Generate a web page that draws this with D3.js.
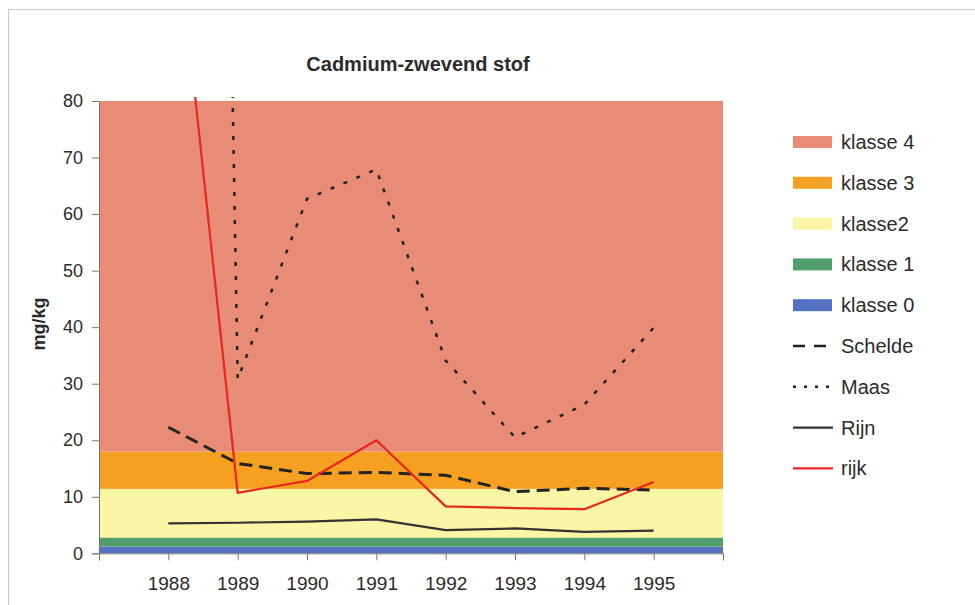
<!DOCTYPE html>
<html>
<head>
<meta charset="utf-8">
<script src="https://cdn.jsdelivr.net/npm/d3@7"></script>
<style>
  body { margin: 0; background: #fff; }
  text { font-family: "Liberation Sans", Arial, sans-serif; fill: #2b2b2b; }
</style>
</head>
<body>
<svg id="chart" width="975" height="605"></svg>
<script>
// years on the category axis (1987 and 1996 are blank edges)
var years = [1988, 1989, 1990, 1991, 1992, 1993, 1994, 1995];
var scheldeValues = [22.3, 15.9, 14.1, 14.3, 13.8, 10.9, 11.5, 11.2];
var maasValues = [720, 30.8, 62.7, 67.9, 34.1, 20.5, 26.3, 39.9];
var rijnValues = [5.3, 5.4, 5.6, 6.0, 4.1, 4.4, 3.8, 4.0];
var rijkValues = [125, 10.7, 12.8, 20.0, 8.3, 8.0, 7.8, 12.6];

// class boundaries (mg/kg)
var classNames = ["klasse 0", "klasse 1", "klasse2", "klasse 3", "klasse 4"];
var classLower = [0, 1.2, 2.8, 11.4, 18];
var classUpper = [1.2, 2.8, 11.4, 18, 80];
var classColors = ["#5571c2", "#4f9e6c", "#fbf5a6", "#f5a020", "#e98c76"];

var yTicks = [0, 10, 20, 30, 40, 50, 60, 70, 80];

var margin = { top: 101, left: 99, right: 252, bottom: 51 };
var w = 975, h = 605;

var svg = d3.select("#chart");

// outer frame
svg.append("rect")
    .attr("x", 8.5).attr("y", 9.5)
    .attr("width", 1000).attr("height", 1000)
    .attr("fill", "none")
    .attr("stroke", "#c8c8c8");

var x = d3.scaleLinear()
    .domain([1987, 1996])
    .range([margin.left, w - margin.right]);

var y = d3.scaleLinear()
    .domain([0, 80])
    .range([h - margin.bottom - 0.7, margin.top]);

// class bands
svg.selectAll("rect.band")
    .data(classNames)
    .enter()
    .append("rect")
    .attr("class", "band")
    .attr("x", x(1987))
    .attr("width", x(1996) - x(1987))
    .attr("y", function(d, i) { return y(classUpper[i]); })
    .attr("height", function(d, i) { return y(classLower[i]) - y(classUpper[i]); })
    .attr("fill", function(d, i) { return classColors[i]; });

// clip for the lines (lines poke a few px over the top like the original)
svg.append("clipPath").attr("id", "plotclip")
    .append("rect")
    .attr("x", x(1987))
    .attr("y", y(80) - 4)
    .attr("width", x(1996) - x(1987))
    .attr("height", y(0) - y(80) + 4);

var series = [
    { name: "Schelde", values: scheldeValues, color: "#222", width: 3, dash: "13,7" },
    { name: "Maas", values: maasValues, color: "#222", width: 2.5, dash: "4,10" },
    { name: "Rijn", values: rijnValues, color: "#333", width: 2.2, dash: null },
    { name: "rijk", values: rijkValues, color: "#e8261e", width: 2.2, dash: null }
];

var line = d3.line()
    .x(function(d, i) { return x(years[i]); })
    .y(function(d) { return y(d); });

svg.append("g")
    .attr("clip-path", "url(#plotclip)")
    .selectAll("path")
    .data(series)
    .enter()
    .append("path")
    .attr("d", function(s) { return line(s.values); })
    .attr("fill", "none")
    .attr("stroke", function(s) { return s.color; })
    .attr("stroke-width", function(s) { return s.width; })
    .attr("stroke-dasharray", function(s) { return s.dash; })
    .attr("stroke-linejoin", "round");

// y axis
var yAxis = svg.append("g")
    .attr("transform", "translate(" + margin.left + ",0)")
    .call(d3.axisLeft(y).tickValues(yTicks).tickSize(7).tickPadding(9));
yAxis.attr("font-size", null).attr("font-family", null);
yAxis.select(".domain").attr("stroke", "#777");
yAxis.selectAll(".tick line").attr("stroke", "#777");
yAxis.selectAll("text").style("font-size", "18px").attr("fill", "#2b2b2b");

// x axis
var xAxis = svg.append("g")
    .attr("transform", "translate(0," + y(0) + ")")
    .call(d3.axisBottom(x)
        .tickValues([1987].concat(years).concat([1996]))
        .tickFormat(function(d) { return (d === 1987 || d === 1996) ? "" : d; })
        .tickSize(7).tickPadding(16));
xAxis.attr("font-size", null).attr("font-family", null);
xAxis.select(".domain").attr("stroke", "#777");
xAxis.selectAll(".tick line").attr("stroke", "#777");
xAxis.selectAll("text").style("font-size", "19px").attr("fill", "#2b2b2b");

// title
svg.append("text")
    .attr("x", 418).attr("y", 71)
    .attr("text-anchor", "middle")
    .style("font-size", "20px")
    .attr("font-weight", "bold")
    .text("Cadmium-zwevend stof");

// y axis title
svg.append("text")
    .attr("transform", "translate(45,324) rotate(-90)")
    .attr("text-anchor", "middle")
    .style("font-size", "18px")
    .attr("font-weight", "bold")
    .text("mg/kg");

// legend
var legendItems = [];
for (var i = classNames.length - 1; i >= 0; i--) {
    legendItems.push({ name: classNames[i], type: "box", color: classColors[i] });
}
series.forEach(function(s) {
    legendItems.push({ name: s.name, type: "line", color: s.color, dash: s.dash, width: s.width });
});

var legend = svg.append("g").attr("transform", "translate(793,142)");
var rows = legend.selectAll("g")
    .data(legendItems)
    .enter()
    .append("g")
    .attr("transform", function(d, i) { return "translate(0," + (i * 40.8) + ")"; });

rows.filter(function(d) { return d.type === "box"; })
    .append("rect")
    .attr("x", 0).attr("y", -6)
    .attr("width", 39).attr("height", 12)
    .attr("fill", function(d) { return d.color; });

rows.filter(function(d) { return d.type === "line"; })
    .append("line")
    .attr("x1", 0).attr("x2", 40)
    .attr("stroke", function(d) { return d.color; })
    .attr("stroke-width", function(d) { return Math.min(d.width, 2.5); })
    .attr("stroke-dasharray", function(d) { return d.dash === "4,10" ? "3,8" : (d.dash ? "12,9" : null); });

rows.append("text")
    .attr("x", 48).attr("y", 7)
    .style("font-size", "20px")
    .text(function(d) { return d.name; });
</script>
</body>
</html>
